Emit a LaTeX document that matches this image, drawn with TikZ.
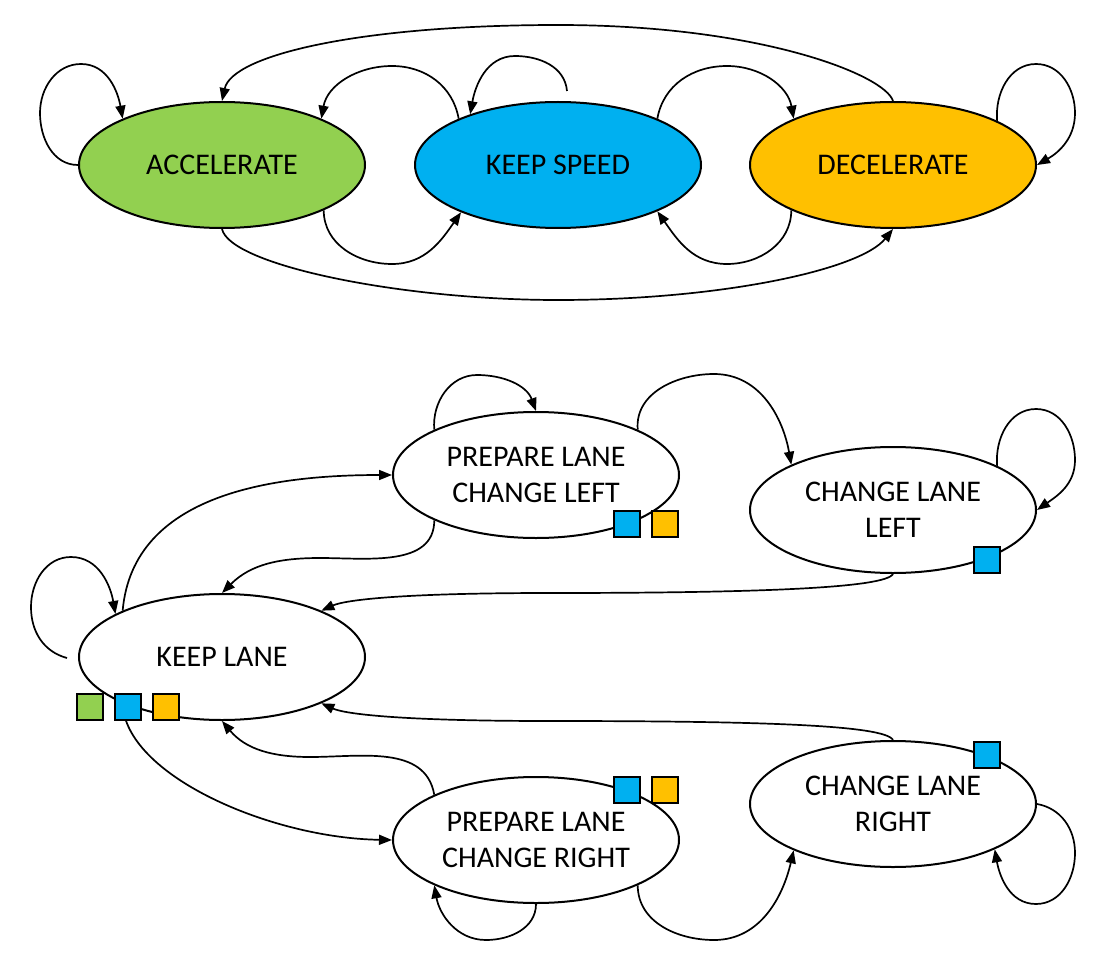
\documentclass[tikz,border=0pt]{standalone}
\usepackage{fontspec}
\setmainfont{Carlito}
\usetikzlibrary{shapes.geometric,arrows.meta}
\definecolor{cgreen}{HTML}{92D050}
\definecolor{cblue}{HTML}{00B0F0}
\definecolor{corange}{HTML}{FFC000}
\begin{document}
\begin{tikzpicture}[x=1pt,y=1pt,
  st/.style={ellipse, draw, line width=2pt, minimum width=286pt, minimum height=126pt,
    inner sep=0pt, align=center, font=\fontsize{30}{36}\selectfont},
  arr/.style={line width=1.7pt, -{Triangle[length=13pt,width=10pt]}},
  sq/.style={draw, line width=2.2pt, minimum size=26pt, inner sep=0pt}]
\useasboundingbox (0,0) rectangle (1110,-968);

% states
\node[st, fill=cgreen]  (acc)  at (222,-165) {ACCELERATE};
\node[st, fill=cblue]   (ks)   at (558,-165) {KEEP SPEED};
\node[st, fill=corange] (dec)  at (893,-165) {DECELERATE};
\node[st] (plcl) at (536,-475) {PREPARE LANE\\CHANGE LEFT};
\node[st] (cll)  at (893,-510) {CHANGE LANE\\LEFT};
\node[st] (kl)   at (222,-657) {KEEP LANE};
\node[st] (plcr) at (536,-840) {PREPARE LANE\\CHANGE RIGHT};
\node[st] (clr)  at (893,-804) {CHANGE LANE\\RIGHT};

\coordinate (ksl) at (567,-91);
\coordinate (kls) at (67,-658);

% speed transitions
\draw[arr] (acc.180) to[out=180,in=270] (40,-113) to[out=90,in=180] (81,-64) to[out=0,in=100] (acc.155);
\draw[arr] (acc.-24) to[out=-90,in=180] (392,-264) to[out=0,in=235] (ks.-154);
\draw[arr] (ks.155) to[out=100,in=0] (392,-66) to[out=180,in=80] (acc.25);
\draw[arr] (ksl) to[out=95,in=0] (515,-56) to[out=180,in=80] (ks.150);
\draw[arr] (ks.25) to[out=80,in=180] (727,-66) to[out=0,in=100] (dec.155);
\draw[arr] (dec.-156) to[out=-90,in=0] (727,-264) to[out=180,in=-55] (ks.-25);
\draw[arr] (dec.23) to[out=95,in=180] (1036,-64) to[out=0,in=90] (1075,-113) to[out=-90,in=30] (dec.east);
\draw[arr] (dec.north) .. controls (885,-75) and (760,-25) .. (558,-25) .. controls (360,-25) and (232,-55) .. (acc.north);
\draw[arr] (acc.south) .. controls (230,-265) and (400,-300) .. (558,-300) .. controls (720,-300) and (860,-270) .. (dec.south);

% lane transitions
\draw[arr] (kls) to[out=165,in=270] (31,-607) to[out=90,in=180] (71,-557) to[out=0,in=100] (kl.158);
\draw[arr] (kl.155) to[out=85,in=180] (plcl.west);
\draw[arr] (plcl.-156) to[out=-90,in=0] (320,-558) to[out=180,in=45] (kl.north);
\draw[arr] (plcl.156) to[out=95,in=180] (477,-375) to[out=0,in=110] (plcl.north);
\draw[arr] (plcl.24) to[out=95,in=180] (714,-374) to[out=0,in=100] (cll.156);
\draw[arr] (cll.23) to[out=95,in=180] (1036,-409) to[out=0,in=90] (1075,-460) to[out=-90,in=35] (cll.east);
\draw[arr] (cll.south) .. controls (885,-588) and (760,-593) .. (550,-593) .. controls (400,-593) and (345,-600) .. (kl.25);
\draw[arr] (clr.north) .. controls (885,-725) and (760,-721) .. (550,-721) .. controls (400,-721) and (345,-714) .. (kl.-25);
\draw[arr] (plcr.156) to[out=100,in=0] (310,-757) to[out=180,in=-50] (kl.south);
\draw[arr] (kl.-155) .. controls (125,-775) and (270,-838) .. (plcr.west);
\draw[arr] (plcr.south) to[out=-90,in=0] (486,-940) to[out=180,in=-80] (plcr.-156);
\draw[arr] (plcr.-24) to[out=-90,in=180] (714,-940) to[out=0,in=-103] (clr.-155);
\draw[arr] (clr.east) to[out=-10,in=90] (1075,-853) to[out=-90,in=0] (1036,-904) to[out=180,in=-80] (clr.-24);

% colour markers
\node[sq, fill=cgreen]  (s1) at (90,-707) {};
\node[sq, fill=cblue]   (s2) at (128,-707) {};
\node[sq, fill=corange] (s3) at (166,-707) {};
\node[sq, fill=cblue]   (s4) at (627,-524) {};
\node[sq, fill=corange] (s5) at (665,-524) {};
\node[sq, fill=cblue]   (s6) at (987,-560) {};
\node[sq, fill=cblue]   (s7) at (627,-790) {};
\node[sq, fill=corange] (s8) at (665,-790) {};
\node[sq, fill=cblue]   (s9) at (987,-755) {};
\end{tikzpicture}
\end{document}
